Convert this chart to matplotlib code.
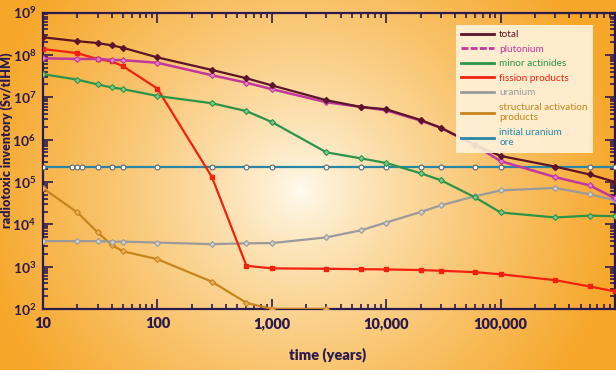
import numpy as np
import matplotlib
matplotlib.use("Agg")
import matplotlib.pyplot as plt
from matplotlib.lines import Line2D
from matplotlib.ticker import LogLocator, FixedLocator, NullFormatter

# ---------------- data ----------------
t_main = [10, 20, 30, 40, 50, 100, 300, 600, 1000, 3000, 6000, 10000, 20000, 30000,
          60000, 100000, 300000, 600000, 1000000]

total = [2.6e8, 2.1e8, 1.9e8, 1.67e8, 1.47e8, 8.7e7, 4.4e7, 2.8e7, 1.9e7, 8.5e6, 5.9e6,
         5.2e6, 2.9e6, 1.9e6, 7.5e5, 4.1e5, 2.3e5, 1.5e5, 1.0e5]
plutonium = [8.3e7, 8.0e7, 8.0e7, 7.6e7, 7.5e7, 6.5e7, 3.3e7, 2.2e7, 1.55e7, 7.6e6, 5.9e6,
             4.9e6, 2.8e6, 1.9e6, 7.2e5, 3.1e5, 1.3e5, 8.3e4, 4.1e4]
minor_actinides = [3.5e7, 2.6e7, 2.0e7, 1.7e7, 1.55e7, 1.07e7, 7.2e6, 4.7e6, 2.6e6, 5.0e5,
                   3.6e5, 2.8e5, 1.6e5, 1.1e5, 4.3e4, 1.9e4, 1.45e4, 1.6e4, 1.55e4]
fission_products = [1.37e8, 1.1e8, 7.9e7, 7.0e7, 5.4e7, 1.6e7, 1.3e5, 1.05e3, 9.1e2, 8.9e2,
                    8.7e2, 8.6e2, 8.3e2, 8.0e2, 7.4e2, 6.6e2, 4.8e2, 3.4e2, 2.6e2]
uranium = [4.0e3, 4.0e3, 4.0e3, 3.9e3, 3.9e3, 3.7e3, 3.4e3, 3.55e3, 3.6e3, 4.9e3, 7.2e3,
           1.1e4, 1.95e4, 2.8e4, 4.6e4, 6.3e4, 7.2e4, 5.1e4, 3.7e4]

t_struct = [10, 20, 30, 40, 50, 100, 300, 600, 1000, 3000]
structural = [7.1e4, 1.9e4, 6.5e3, 3.2e3, 2.3e3, 1.5e3, 4.4e2, 1.4e2, 1.0e2, 1.0e2]

t_ore = [10, 18, 20, 22, 30, 40, 50, 100, 300, 600, 1000, 3000, 6000, 10000, 20000, 30000,
         60000, 100000, 300000, 600000, 1000000]
ore = [2.2e5] * len(t_ore)

x_ticks = [10, 100, 1000, 10000, 100000]
x_ticklabels = ["10", "100", "1,000", "10,000", "100,000"]
y_ticks = [1e2, 1e3, 1e4, 1e5, 1e6, 1e7, 1e8, 1e9]
y_ticklabels = [r"$\mathbf{10^{%d}}$" % k for k in range(2, 10)]

labels = ["total", "plutonium", "minor actinides", "fission products", "uranium",
          "structural activation\nproducts", "initial uranium\nore"]

# ---------------- style ----------------
C_TOT = "#5e1428"
C_PU = "#c2389e"
C_MA = "#2b9448"
C_FP = "#f2200f"
C_U = "#9a9a9a"
C_ST = "#c8841c"
C_ORE = "#2a86a4"
NAVY = "#2a1a4e"

plt.rcParams["font.family"] = ["Lato", "DejaVu Sans"]
plt.rcParams["mathtext.fontset"] = "custom"
plt.rcParams["mathtext.rm"] = "Lato"
plt.rcParams["mathtext.bf"] = "Lato:bold"

W, H = 616, 370
fig = plt.figure(figsize=(W / 100, H / 100), dpi=100)

# background radial gradient
bg = fig.add_axes([0, 0, 1, 1], zorder=-10)
yy, xx = np.mgrid[0:H, 0:W]
cx, cy = 300, 190
d = np.sqrt(((xx - cx) / 1.0) ** 2 + ((yy - cy) / 0.95) ** 2) / 330.0
d = np.clip(d, 0, 1) ** 0.8
c0 = np.array([255, 252, 240]) / 255.0
c1 = np.array([246, 166, 40]) / 255.0
img = c0[None, None, :] * (1 - d[..., None]) + c1[None, None, :] * d[..., None]
bg.imshow(img, aspect="auto", extent=[0, 1, 0, 1])
bg.axis("off")

ax = fig.add_axes([43 / W, 1 - 309 / H, (615 - 43) / W, (309 - 12.5) / H])
ax.set_facecolor("none")
ax.set_xscale("log")
ax.set_yscale("log")
ax.set_xlim(10, 1e6)
ax.set_ylim(1e2, 1e9)

ms = 3.0
ax.plot(t_ore, ore, color=C_ORE, lw=1.6, marker="o", ms=ms + 0.5, mfc="white", mec="#5a6a70", mew=0.8, zorder=3)
ax.plot(t_struct, structural, color=C_ST, lw=1.6, marker="D", ms=ms, mfc="#e8b060", mec=C_ST, mew=0.8, zorder=3)
ax.plot(t_main, uranium, color=C_U, lw=1.6, marker="D", ms=ms, mfc="#d0d0d0", mec=C_U, mew=0.8, zorder=3)
ax.plot(t_main, fission_products, color=C_FP, lw=1.6, marker="s", ms=ms, mfc=C_FP, mec=C_FP, zorder=4)
ax.plot(t_main, minor_actinides, color=C_MA, lw=1.6, marker="D", ms=ms, mfc="#7cc890", mec=C_MA, mew=0.8, zorder=4)
ax.plot(t_main, plutonium, color=C_PU, lw=1.8, marker="D", ms=ms, mfc="#e080c8", mec=C_PU, mew=0.8, zorder=5)
ax.plot(t_main, total, color=C_TOT, lw=1.6, marker="D", ms=ms, mfc=C_TOT, mec=C_TOT, zorder=6)

for s in ax.spines.values():
    s.set_color(NAVY)
    s.set_linewidth(1.6)

ax.xaxis.set_major_locator(FixedLocator(x_ticks + [1e6]))
ax.set_xticklabels(x_ticklabels + [""])
ax.xaxis.set_minor_locator(LogLocator(base=10, subs=np.arange(2, 10), numticks=20))
ax.xaxis.set_minor_formatter(NullFormatter())
ax.yaxis.set_major_locator(FixedLocator(y_ticks))
ax.set_yticklabels(y_ticklabels)
ax.yaxis.set_minor_locator(LogLocator(base=10, subs=np.arange(2, 10), numticks=20))
ax.yaxis.set_minor_formatter(NullFormatter())

ax.tick_params(which="both", direction="in", top=True, right=True, color=NAVY, width=1.2)
ax.tick_params(which="major", length=7, labelcolor=NAVY)
ax.tick_params(axis="x", which="major", labelsize=10.5, pad=6)
ax.tick_params(axis="y", which="major", labelsize=10, pad=5)
ax.tick_params(which="minor", length=3.5)
for lab in ax.get_xticklabels():
    lab.set_fontweight("heavy")

ax.set_xlabel("time (years)", fontsize=10.5, fontweight="heavy", color=NAVY)
ax.xaxis.set_label_coords((328 - 43) / (615 - 43), -0.13)
ax.set_ylabel("radiotoxic inventory (Sv/tIHM)", fontsize=9, fontweight="heavy", color=NAVY)
ax.yaxis.set_label_coords(-29.5 / (615 - 43), 0.57)

colors = [C_TOT, C_PU, C_MA, C_FP, C_U, C_ST, C_ORE]
handles = []
for lbl, c in zip(labels, colors):
    ls = (0, (2.5, 0.8)) if lbl == "plutonium" else "-"
    handles.append(Line2D([], [], color=c, lw=2.0, ls=ls, label=lbl))
leg = ax.legend(handles=handles, loc="upper right", bbox_to_anchor=(0.962, 0.958),
                borderaxespad=0.0,
                fontsize=7.2, handlelength=3.3, handletextpad=0.5, labelspacing=0.55,
                frameon=True, fancybox=False, facecolor="#fff3dc", edgecolor="none",
                framealpha=0.9, borderpad=0.55)
for txt, c in zip(leg.get_texts(), colors):
    txt.set_color(c)
leg.set_zorder(10)

fig.savefig("out.png", dpi=100)
